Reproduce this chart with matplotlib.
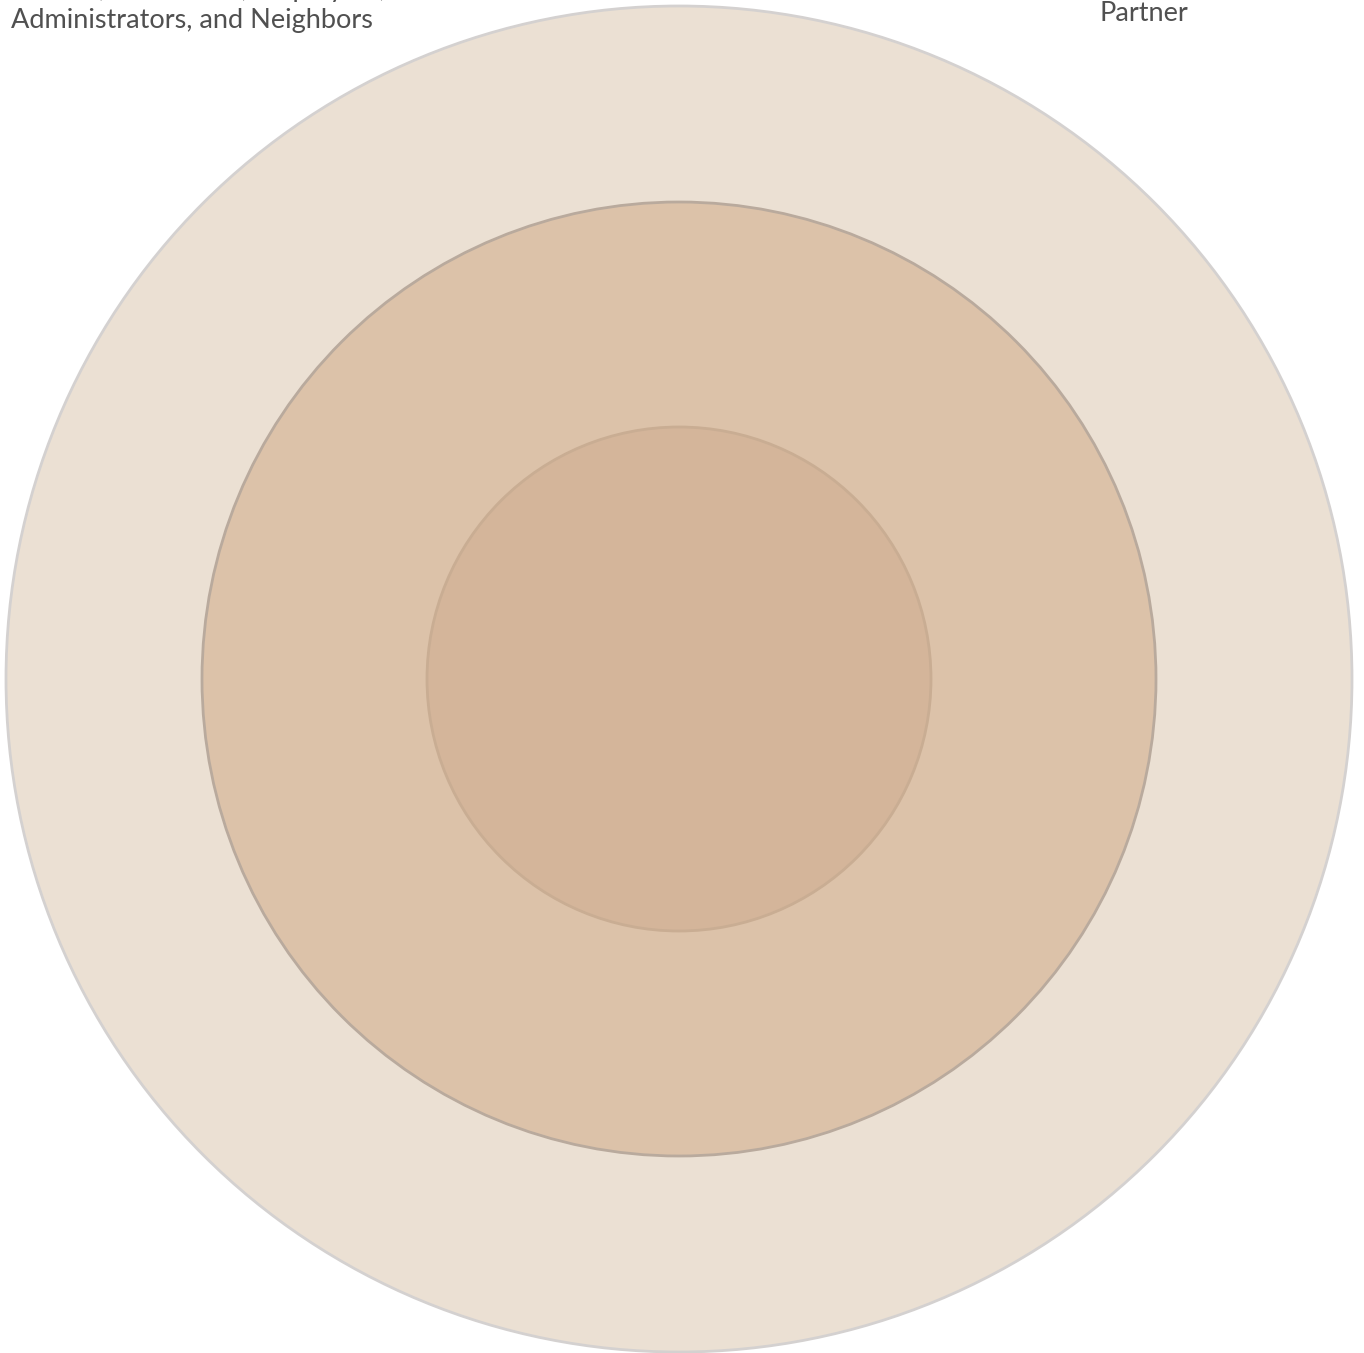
import matplotlib.pyplot as plt
from matplotlib.patches import Circle

# rings, outer to inner (radius in pixels of the 1364x1353 canvas)
ring_names = ["Community", "Friends and Family", "Partner"]
ring_radius = [673, 477, 252]
ring_fill = ["#ebe0d3", "#dcc2a9", "#d4b59a"]
ring_edge = ["#d4d1d0", "#b9aa9d", "#c9ad93"]

labels = ["Friends, Coworkers, Employers,\nAdministrators, and Neighbors", "Partner"]
label_x = [11, 1099]
label_y = [28, 21]

W, H = 1364, 1353
cx, cy = 679, 679

fig = plt.figure(figsize=(W / 100, H / 100), dpi=100)
ax = fig.add_axes([0, 0, 1, 1])
ax.set_xlim(0, W)
ax.set_ylim(H, 0)
ax.set_aspect("equal")
ax.axis("off")

for r, fc, ec in zip(ring_radius, ring_fill, ring_edge):
    ax.add_patch(Circle((cx, cy), r, facecolor=fc, edgecolor=ec, linewidth=2))

for txt, x, y in zip(labels, label_x, label_y):
    ax.text(x, y, txt, fontsize=19.5, family=["Lato", "DejaVu Sans"],
            color="#505050", ha="left", va="baseline", linespacing=1.3)

fig.savefig("out.png", dpi=100)
